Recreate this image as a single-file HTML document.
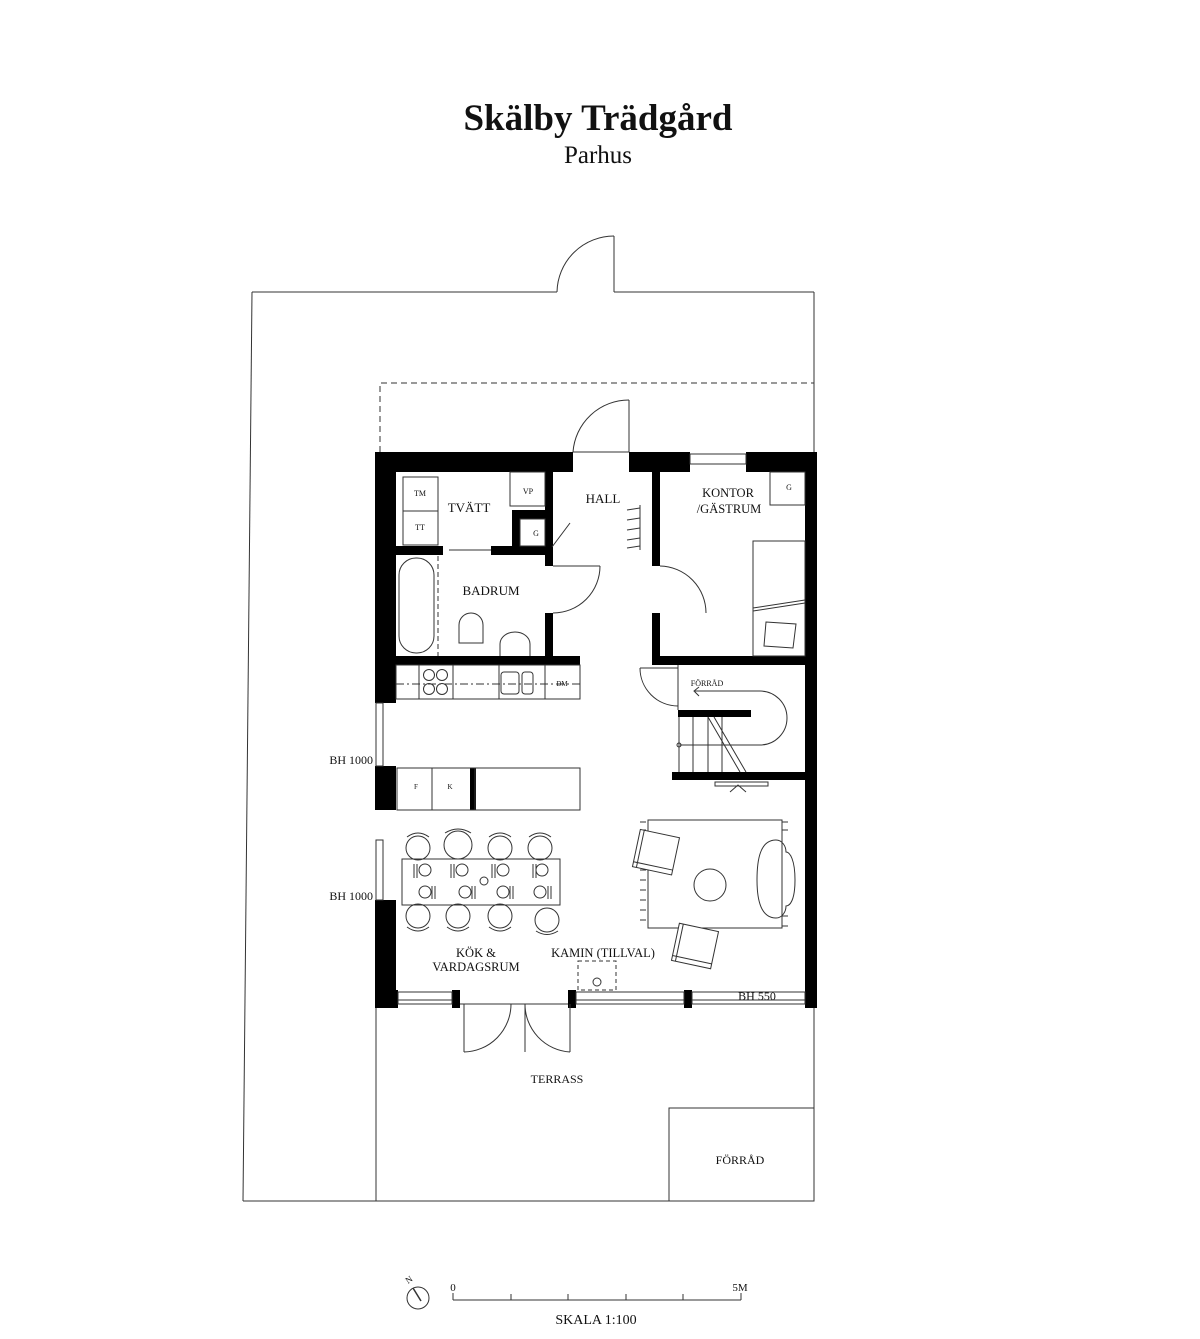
<!DOCTYPE html>
<html><head><meta charset="utf-8"><style>
html,body{margin:0;padding:0;background:#fff}
svg{display:block}
text{font-family:"Liberation Serif",serif;fill:#111}
</style></head><body>
<svg width="1200" height="1339" viewBox="0 0 1200 1339" xmlns="http://www.w3.org/2000/svg">
<text x="598" y="130" font-size="37" font-weight="bold" text-anchor="middle">Skälby Trädgård</text>
<text x="598" y="163" font-size="25" text-anchor="middle">Parhus</text>

<g fill="none" stroke="#333" stroke-width="1">
<line x1="252" y1="292" x2="557" y2="292"/>
<line x1="614" y1="292" x2="814" y2="292"/>
<line x1="252" y1="292" x2="243" y2="1201"/>
<line x1="814" y1="292" x2="814" y2="1201"/>
<line x1="243" y1="1201" x2="814" y2="1201"/>
<line x1="376" y1="1008" x2="376" y2="1201"/>
<rect x="669" y="1108" width="145" height="93"/>
<line x1="614" y1="292" x2="614" y2="236"/>
<path d="M614 236 A57 57 0 0 0 557 292"/>
<path d="M380 452 L380 383 L814 383" stroke-dasharray="6 4"/>
<line x1="629" y1="452" x2="629" y2="400"/>
<path d="M629 400 A56 56 0 0 0 573 452"/>
<line x1="573" y1="452" x2="629" y2="452"/>
</g>

<g fill="#000">
<rect x="375" y="452" width="198" height="20"/>
<rect x="629" y="452" width="61" height="20"/>
<rect x="746" y="452" width="71" height="20"/>
<rect x="375" y="452" width="21" height="251"/>
<rect x="375" y="766" width="21" height="44"/>
<rect x="375" y="900" width="21" height="108"/>
<rect x="805" y="452" width="12" height="556"/>
<rect x="375" y="546" width="68" height="9"/>
<rect x="491" y="546" width="62" height="9"/>
<rect x="545" y="472" width="8" height="94"/>
<rect x="512" y="510" width="40" height="9"/>
<rect x="512" y="510" width="8" height="40"/>
<rect x="545" y="613" width="8" height="52"/>
<rect x="375" y="656" width="205" height="9"/>
<rect x="652" y="472" width="8" height="94"/>
<rect x="652" y="613" width="8" height="52"/>
<rect x="652" y="656" width="165" height="9"/>
<rect x="678" y="710" width="73" height="7"/>
<rect x="672" y="772" width="133" height="8"/>
<rect x="470" y="768" width="6" height="42"/>
<rect x="375" y="990" width="23" height="18"/>
<rect x="452" y="990" width="8" height="18"/>
<rect x="568" y="990" width="8" height="18"/>
<rect x="684" y="990" width="8" height="18"/>
</g>

<g fill="none" stroke="#333" stroke-width="1">
<rect x="690" y="454" width="56" height="10"/>
<rect x="376" y="703" width="7" height="63"/>
<rect x="376" y="840" width="7" height="60"/>
<rect x="398" y="992" width="54" height="12"/>
<line x1="398" y1="1000" x2="452" y2="1000"/>
<rect x="576" y="992" width="108" height="12"/>
<line x1="576" y1="1000" x2="684" y2="1000"/>
<rect x="692" y="992" width="113" height="12"/>
<line x1="692" y1="1000" x2="805" y2="1000"/>
<line x1="460" y1="1004" x2="568" y2="1004"/>
<rect x="715" y="782" width="53" height="4"/>
<path d="M730 792 L738 785 L746 792"/>
<line x1="464" y1="1004" x2="464" y2="1052"/>
<path d="M464 1052 A48 48 0 0 0 511 1004"/>
<line x1="525" y1="1004" x2="525" y2="1052"/>
<path d="M525 1004 A48 48 0 0 0 570 1052"/>
<line x1="570" y1="1004" x2="570" y2="1052"/>
<rect x="403" y="477" width="35" height="34"/>
<rect x="403" y="511" width="35" height="34"/>
<rect x="510" y="472" width="35" height="34"/>
<rect x="520" y="519" width="25" height="27"/>
<line x1="449" y1="550" x2="491" y2="550"/>
<line x1="552" y1="547" x2="570" y2="523"/>
<rect x="399" y="558" width="35" height="95" rx="17"/>
<line x1="438" y1="556" x2="438" y2="656" stroke-dasharray="5 3"/>
<path d="M459 643 L459 625 A12 12 0 0 1 483 625 L483 643 Z"/>
<path d="M500 656 L500 644 A15 12 0 0 1 530 644 L530 656"/>
<line x1="553" y1="566" x2="600" y2="566"/>
<path d="M600 566 A47 47 0 0 1 553 613"/>
<path d="M660 566 A47 47 0 0 1 706 613"/>
<line x1="640" y1="505" x2="640" y2="550"/>
<path d="M627 510 L640 508 M627 520 L640 518 M627 530 L640 528 M627 540 L640 538 M627 548 L640 546"/>
<rect x="770" y="472" width="35" height="33"/>
<rect x="753" y="541" width="52" height="115"/>
<path d="M753 608 L805 600 M753 611 L805 603"/>
<path d="M766 622 L796 624 L793 648 L764 646 Z"/>
<rect x="396" y="665" width="184" height="34"/>
<line x1="419" y1="665" x2="419" y2="699"/>
<line x1="453" y1="665" x2="453" y2="699"/>
<line x1="499" y1="665" x2="499" y2="699"/>
<line x1="545" y1="665" x2="545" y2="699"/>
<circle cx="429" cy="675" r="5.5"/><circle cx="442" cy="675" r="5.5"/>
<circle cx="429" cy="689" r="5.5"/><circle cx="442" cy="689" r="5.5"/>
<rect x="501" y="672" width="18" height="22" rx="3"/>
<rect x="522" y="672" width="11" height="22" rx="3"/>
<line x1="396" y1="684" x2="580" y2="684" stroke-dasharray="8 3 2 3"/>
<rect x="397" y="768" width="78" height="42"/>
<line x1="432" y1="768" x2="432" y2="810"/>
<rect x="475" y="768" width="105" height="42"/>
<line x1="678" y1="665" x2="678" y2="710"/>
<path d="M640 668 A38 38 0 0 0 678 706"/>
<line x1="640" y1="668" x2="678" y2="668"/>
<line x1="679" y1="717" x2="679" y2="772"/>
<line x1="693" y1="717" x2="693" y2="772"/>
<line x1="708" y1="717" x2="708" y2="772"/>
<line x1="722" y1="717" x2="722" y2="772"/>
<path d="M708 717 L740 772 M714 717 L746 772"/>
<path d="M680 745 L760 745 A27 27 0 0 0 760 691 L695 691 M699 687 L694 691 L699 696"/>
<circle cx="679" cy="745" r="2"/>
<rect x="402" y="859" width="158" height="46"/>
<g>
<circle cx="418" cy="848" r="12"/><circle cx="458" cy="845" r="14"/><circle cx="500" cy="848" r="12"/><circle cx="540" cy="848" r="12"/>
<circle cx="418" cy="916" r="12"/><circle cx="458" cy="916" r="12"/><circle cx="500" cy="916" r="12"/><circle cx="547" cy="920" r="12"/>
<path d="M407 837 Q418 829 429 837 M445 833 Q458 825 471 833 M489 837 Q500 829 511 837 M529 837 Q540 829 551 837"/>
<path d="M407 927 Q418 935 429 927 M447 927 Q458 935 469 927 M489 927 Q500 935 511 927 M536 931 Q547 938 558 931"/>
<circle cx="425" cy="870" r="6"/><circle cx="462" cy="870" r="6"/><circle cx="503" cy="870" r="6"/><circle cx="542" cy="870" r="6"/>
<circle cx="425" cy="892" r="6"/><circle cx="465" cy="892" r="6"/><circle cx="503" cy="892" r="6"/><circle cx="540" cy="892" r="6"/>
<path d="M414 864 L414 878 M417 864 L417 878 M451 864 L451 878 M454 864 L454 878 M492 864 L492 878 M495 864 L495 878 M533 864 L533 878 M536 864 L536 878"/>
<path d="M432 886 L432 899 M435 886 L435 899 M472 886 L472 899 M475 886 L475 899 M510 886 L510 899 M513 886 L513 899 M548 886 L548 899 M551 886 L551 899"/>
<circle cx="484" cy="881" r="4"/>
</g>
<rect x="648" y="820" width="134" height="108"/>
<path d="M646 822 L640 822 M646 830 L640 830 M646 840 L640 840 M646 850 L640 850 M646 860 L640 860 M646 870 L640 870 M646 880 L640 880 M646 890 L640 890 M646 900 L640 900 M646 910 L640 910 M646 920 L640 920"/>
<path d="M782 822 L788 822 M782 830 L788 830 M782 916 L788 916 M782 926 L788 926"/>
<g transform="rotate(12 655 852)"><rect x="636" y="833" width="40" height="38" fill="#fff"/><line x1="636" y1="866" x2="676" y2="866"/><line x1="640" y1="833" x2="640" y2="871"/></g>
<g transform="rotate(12 695 946)"><rect x="675" y="927" width="40" height="38" fill="#fff"/><line x1="675" y1="960" x2="715" y2="960"/><line x1="679" y1="927" x2="679" y2="965"/></g>
<circle cx="710" cy="885" r="16"/>
<path d="M776 840 C760 840 757 860 757 880 C757 905 763 918 776 918 C782 918 786 912 786 906 C790 906 795 900 795 880 C795 860 790 852 786 852 C786 846 782 840 776 840 Z"/>
<rect x="578" y="961" width="38" height="29" stroke-dasharray="4 3"/>
<circle cx="597" cy="982" r="4"/>
<line x1="453" y1="1300" x2="741" y2="1300"/>
<path d="M453 1300 L453 1293 M511 1300 L511 1294 M568 1300 L568 1294 M626 1300 L626 1294 M683 1300 L683 1294 M741 1300 L741 1293"/>
<circle cx="418" cy="1298" r="11"/>
<line x1="413" y1="1288" x2="421" y2="1301" stroke-width="1.5"/>
</g>

<g font-size="11">
<text x="420" y="496" font-size="8" text-anchor="middle">TM</text>
<text x="420" y="530" font-size="8" text-anchor="middle">TT</text>
<text x="528" y="494" font-size="8" text-anchor="middle">VP</text>
<text x="536" y="536" font-size="8" text-anchor="middle">G</text>
<text x="789" y="490" font-size="8" text-anchor="middle">G</text>
<text x="469" y="512" font-size="13" text-anchor="middle">TVÄTT</text>
<text x="603" y="503" font-size="13" text-anchor="middle">HALL</text>
<text x="728" y="497" font-size="12.5" text-anchor="middle">KONTOR</text>
<text x="729" y="513" font-size="12.5" text-anchor="middle">/GÄSTRUM</text>
<text x="491" y="595" font-size="13" text-anchor="middle">BADRUM</text>
<text x="562" y="686" font-size="7" text-anchor="middle">DM</text>
<text x="707" y="686" font-size="8" text-anchor="middle">FÖRRÅD</text>
<text x="416" y="789" font-size="7" text-anchor="middle">F</text>
<text x="450" y="789" font-size="7" text-anchor="middle">K</text>
<text x="373" y="764" font-size="12" text-anchor="end">BH 1000</text>
<text x="373" y="900" font-size="12" text-anchor="end">BH 1000</text>
<text x="476" y="957" font-size="12.5" text-anchor="middle">KÖK &amp;</text>
<text x="476" y="971" font-size="12.5" text-anchor="middle">VARDAGSRUM</text>
<text x="603" y="957" font-size="12.5" text-anchor="middle">KAMIN (TILLVAL)</text>
<text x="757" y="1000" font-size="12" text-anchor="middle">BH 550</text>
<text x="557" y="1083" font-size="12" text-anchor="middle">TERRASS</text>
<text x="740" y="1164" font-size="12" text-anchor="middle">FÖRRÅD</text>
<text x="453" y="1291" font-size="11" text-anchor="middle">0</text>
<text x="740" y="1291" font-size="11" text-anchor="middle">5M</text>
<text x="596" y="1324" font-size="14" text-anchor="middle">SKALA 1:100</text>
<text x="408" y="1284" font-size="9" transform="rotate(-35 408 1284)">N</text>
</g>
</svg>
</body></html>
